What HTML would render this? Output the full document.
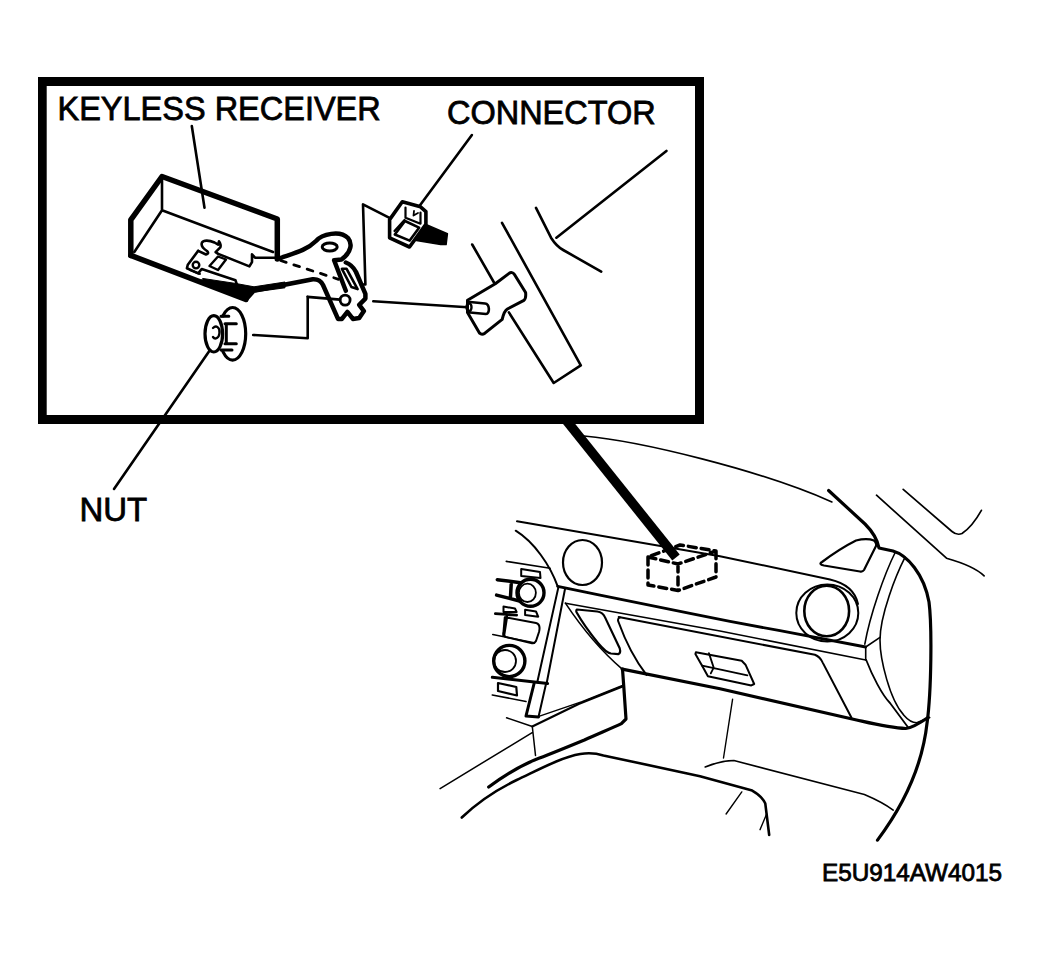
<!DOCTYPE html>
<html><head><meta charset="utf-8">
<style>
html,body{margin:0;padding:0;background:#fff;}
svg{display:block;}
text{font-family:"Liberation Sans",sans-serif;fill:#000;}
</style></head>
<body>
<svg width="1038" height="958" viewBox="0 0 1038 958">
<!-- frame -->
<path d="M38 77 H704 V424 H38 Z M46.7 86 V415 H695 V86 Z" fill="#000" fill-rule="evenodd"/>
<g fill="none" stroke="#000" stroke-linecap="round" stroke-linejoin="round">
<!-- pointer -->
<path d="M566 420 L676 557.5" stroke-width="9.5" stroke-linecap="butt"/>

<!-- ===== INSET ===== -->
<!-- receiver leader -->
<path d="M191.8 126 L204.5 207.7" stroke-width="2.6"/>
<!-- receiver box -->
<path d="M130.8 255.4 V219.8 L162 176.5 L277.3 219 V259" stroke-width="5.5"/>
<path d="M130.8 255.4 L245.9 299.4" stroke-width="5.5"/>
<path d="M162 176.5 V210.3 L273 252 M162 210.3 L134.3 252" stroke-width="2.6"/>
<!-- clip under box -->
<path d="M198.2 250.8 L187.8 264.7 L186.9 268.2 L198.2 273.4 L201.7 269 L235.5 280.3 L237.2 285.5" stroke-width="2.6"/>
<path d="M198.2 250.8 L206 254.5 C208 254 209 253 207 251 C203 248.5 200.5 246 202 242.5 C203.5 240 209 240 214.5 242.5 L218.2 244.7 L219 241.3 C220.5 243 221 246 220.3 247.3 L215.6 252.1 L218.2 253.9 L249.4 266.4 L252 262.1 L252 254.3 L255 257.7 L281 257.8" stroke-width="2.6"/>
<path d="M209.5 266 L218 256.5 L226 259.5 L218 270 Z" stroke-width="2.4"/>
<circle cx="196" cy="265.1" r="3.3" stroke-width="2.4"/>
<path d="M190 270 L200 274" stroke-width="2"/>
<!-- bracket -->
<path d="M203 278.5 L236 283.5 L254 286.8 L285 282 L285 287.8 L254 292 L246 300.5 L200 283 Z" fill="#000" stroke-width="1"/>
<path d="M245.9 299.4 L253.7 290.7 L312.8 279.3 C318 279 321 281 323 285 L338 318.9 L341.9 318.9 L347.4 311.9 L352.9 318.9 L359.2 318.1 L363.9 311.1 L359.2 304.8 L365.4 298.6 V293.9 L356 272 C354 268 350 264 345.8 262.5" stroke-width="4.5"/>
<path d="M281 257.8 C295 253 307 250 316 241 C322 234 340 230 348 238 C353 244 350 252 345 256.5 L341.5 259.5 L334.1 260.2 L345.8 290.7" stroke-width="4.5"/>
<ellipse cx="329.7" cy="247" rx="7.5" ry="4" stroke-width="3"/>
<path d="M280.5 260.5 L338.5 279.3" stroke-width="2.8" stroke-dasharray="6 8"/>
<path d="M341.9 268.8 L346.6 268.8 L357.6 289.1 L351.4 287 Z" stroke-width="2.6"/>
<circle cx="345.1" cy="300.1" r="5" stroke-width="2.8"/>
<path d="M307.4 296.9 L340 299.6 M307.7 296.9 V338.2 L253.2 335" stroke-width="2.6"/>
<!-- nut -->
<ellipse cx="232.6" cy="333.8" rx="13.1" ry="26.3" stroke-width="3.2"/>
<path d="M214 317.5 L224 317.5 L226.5 322 V345.5 L224 349 L214 349 Z" fill="#fff" stroke="none"/>
<path d="M221 316.3 L228.8 316.3 M225 323.8 L236.3 323.8 M225 343.8 L236.3 343.8 M221 350 L232 350 M226.3 323.8 V343.8" stroke-width="3"/>
<ellipse cx="213.8" cy="333.8" rx="8.8" ry="18.2" stroke-width="3.2" fill="#fff"/>
<path d="M213 328 C216 325 220 327 219.5 333 C219 338 215 340 213 337" stroke-width="2.4"/>
<path d="M210 350 L114 489" stroke-width="2.6"/>
<!-- connector -->
<path d="M471.9 135 L419.1 206.5" stroke-width="2.6"/>
<path d="M390 218.2 L363 204.4 L365.4 284.5 L360.7 284.5" stroke-width="2.6"/>
<path d="M425.9 224.4 L447.4 233.8 L446.1 244.6 L440.7 244.6 L416.4 240.6 Z" fill="#000" stroke-width="1.5"/>
<path d="M402.3 201.7 L420.5 206.8 L425.9 211.6 V224.4 L409.5 247 L389.6 237.8 V219.6 Z" stroke-width="3.6" fill="#fff"/>
<path d="M405.5 207.5 V217.8 L420.5 223.7 V212.5 M404.5 220 L394.5 231" stroke-width="2.2"/>
<path d="M414 211 L413.5 215.5 L418 213" stroke-width="1.8"/>
<path d="M394.8 234.5 L405 221 L419.1 227.7 L409.7 240.6 Z" stroke-width="2.6"/>
<!-- line to socket -->
<path d="M373.3 301.3 L467.5 307.2" stroke-width="2.6"/>
<!-- panel -->
<path d="M472.2 244.5 L494 282.5 M508.9 312.4 L553.7 383 L580.8 365.4 L502 222.8" stroke-width="2.6"/>
<path d="M536 207.9 L551 237.7 C555 244 558 247 563.2 250 L601.2 271.7 M556.4 237.7 L666.4 150.9" stroke-width="2.6"/>
<!-- socket -->
<path d="M467.5 300.3 L495.3 283.8 L509.1 273.4 C511 272 513 272.5 514.3 274.3 L525.6 292.5 C526 296 525.5 299 523.9 300.3 L507.4 309 C504 311 503 316 502.2 319.4 L484.9 333.2 C483 334.5 481 334.5 479.6 333.2 L467.5 312.4 Z" stroke-width="3" fill="#fff"/>
<path d="M470 302 L485 303.5 C490 304 490 314 486 314 L470 312.5" stroke-width="2.6"/>
<ellipse cx="469" cy="307.2" rx="2.5" ry="4" stroke-width="2.4"/>

<!-- ===== DASHBOARD ===== -->
<path d="M584 436 C640 441 760 470 831.9 501.9" stroke-width="1.6"/>
<path d="M828.6 490.5 L865 524 C872 531 877 538 879 548 L893 551 C907 555 924 574 929 602 C932 625 931.5 690 927.1 722.7 C922 770 900 810 877.5 840.1" stroke-width="3.2"/>
<path d="M822 562 C830 556 845 546 856 540.5 C862 539 870 539 874 540.5 C876 542 876.5 545 876 546 L864 570 C863 571.5 862 572 860 571.5 L824 565.5 C820 564.5 819.5 563.5 822 562 Z" stroke-width="2.2"/>
<path d="M876.5 495.2 L946.5 558.2 C960 562 975 567 984.1 575.8" stroke-width="1.7"/>
<path d="M903.2 489.4 L952 531.5 C955 534 958.5 535 962 533.5 C970 528 976 520 981.4 510.3" stroke-width="1.7"/>
<!-- dash top edge -->
<path d="M517 521.3 L720 556.2 L830 579.5 C843 582.5 855 590 858 604" stroke-width="2"/>
<path d="M515.7 530.7 C534 542 550 565 557.7 586.4" stroke-width="2"/>
<path d="M506.3 561.4 L550.1 568.3" stroke-width="1.6"/>
<ellipse cx="582.5" cy="562.5" rx="19.5" ry="22.5" stroke-width="2.2"/>
<!-- lower dash edge -->
<path d="M557.7 586.4 L600 595.2 L690 613.4 L730 621.4 L780 630.7 L865.7 647" stroke-width="2.8"/>
<path d="M565.5 603.2 L720 631 L865.7 660" stroke-width="1.6"/>
<path d="M865.7 647 V660 M865.7 647 L880 637.4" stroke-width="1.6"/>
<!-- right vent -->
<ellipse cx="827.3" cy="613" rx="31" ry="28.5" stroke-width="2"/>
<ellipse cx="826.7" cy="611" rx="22.4" ry="25.3" stroke-width="2.6"/>
<!-- pillar inner curves -->
<path d="M895.4 552 C884 575 870 615 864.8 644.2" stroke-width="1.6"/>
<path d="M905.1 557.2 C896 575 880 615 880 640 C880 660 890 700 903.6 714.9 C908 720 912 722.7 916.7 722.7 L929.7 717.5" stroke-width="1.6"/>
<path d="M866.2 660 C872 675 882 695 890 703 L907.8 727" stroke-width="1.8"/>
<!-- glovebox -->
<path d="M618.7 617 L814.9 654.8 C818 656 821 659 822.7 662.6 L851.4 717.5" stroke-width="2"/>
<path d="M620 617.5 C618 618 617.5 620 618.5 622 C625 640 635 660 646.5 674.9" stroke-width="2"/>
<path d="M622.2 669.1 L720 688.7 L856.6 720 C870 723 890 728 905.8 728.5 C912 728 920 723 928 717.5" stroke-width="3.2"/>
<path d="M695.9 652.2 L741.7 660.8 L745.5 664.7 L754.2 684 L751.3 685.4 L707.9 676.2 L703.1 667.6 L695.4 654.1 Z" stroke-width="2"/>
<path d="M702.2 665.6 L747.4 675.3 M708.9 653.1 L713.7 667.6 L710.8 673.4" stroke-width="1.8"/>
<path d="M577 609.5 L597.3 611.5 C601 612 603.5 614 604.8 616.9 L619.7 648.2 C620.5 651 620 653.5 618.2 654.2 L611 653.5 C607 653 603 649 598 643 C590 633 582 622 577 613 C576 611.5 576 610 577 609.5 Z" stroke-width="2.2"/>
<path d="M565.4 603.1 C580 625 600 650 622.2 669.1" stroke-width="1.6"/>
<!-- console -->
<path d="M622.5 669.2 L623.7 685.4 L626 719 L621.4 723.6 C612 728 600 733 584.4 740 C565 748 548 755 535.2 759.7 C520 766 505 775 488.7 787" stroke-width="3.2"/>
<path d="M538.1 716.6 L582 701.6 L622.5 685.4" stroke-width="1.5"/>
<path d="M532.3 726.5 L578.6 703.9 L622.5 686.6" stroke-width="2.2"/>
<path d="M440.1 788.6 L532.6 732.3 M506.6 717.8 L532.3 726.5 L535.5 755.4" stroke-width="1.5"/>
<path d="M461.8 817.5 C478 802 498 789 516.7 780 C540 769 562 757 580.3 754 C590 752.5 597 753.5 603.4 755.4 L700 776.2 L752.2 790.6 C758 794 763 798 765.3 803.6 L769.2 835" stroke-width="2.6"/>
<path d="M705.2 767 C715 763 725 760.5 733.9 760.5 L864.4 794.5 C875 799 885 804 893.2 810.1" stroke-width="1.6"/>
<path d="M732.6 699.2 L723.5 758" stroke-width="1.4"/>
<path d="M741.8 791.9 L726.1 814 M766.6 814 L760 829.7" stroke-width="1.4"/>
<!-- center stack -->
<path d="M558.2 588.1 L537.2 682.5 M565 589 L546.6 683.5" stroke-width="2"/>
<path d="M492.3 677.3 L547.6 683.5" stroke-width="3"/>
<path d="M534.1 683.5 L526 716 L538.5 717" stroke-width="3"/>
<path d="M546.1 683.5 L538.5 717" stroke-width="2"/>
<path d="M492.3 695 L526 701.5" stroke-width="1.6"/>
<path d="M498 683 L516.3 687 L517 695.5 L498 691 Z" stroke-width="2.2"/>
<circle cx="509.3" cy="661" r="15.6" stroke-width="3.4"/>
<circle cx="505" cy="661" r="11" stroke-width="1.8"/>
<path d="M504.8 617.2 L536 623 C540 624 540 628 539 632 L536 641 C535 643 533 643.5 531 643 L506 637 C503 636 503 634 503.5 632 Z" stroke-width="2"/>
<path d="M492.8 634.5 L534.1 642.8" stroke-width="1.6"/>
<path d="M495.4 613.6 L516.6 615.1 M506.9 615.7 L503.8 635.5" stroke-width="2.8"/>
<path d="M503.5 606.6 L515 608.5 L516.6 612 L503.5 612 Z M525.1 609.7 L536 611.5 L538.2 616.7 L525.1 615 Z" stroke-width="2"/>
<circle cx="530.5" cy="592.8" r="13.5" stroke-width="3.4"/>
<ellipse cx="527.4" cy="592.8" rx="8.5" ry="9.2" stroke-width="1.8"/>
<path d="M521.2 569 L540 572 L540.5 578.1 L521.2 576 Z" stroke-width="2"/>
<path d="M497.3 579.7 L520.5 582.7 M511.2 584.3 L510.4 598.2 M496.6 595.1 L520.5 601.2" stroke-width="3.5"/>
<!-- dashed connector box -->
<path d="M648 557 L678 564 L716 551 L680 545 Z M648 557 V585 L678 590.5 L716 577 V551 M678 564 V590.5" stroke-width="3.5" stroke-dasharray="8 5"/>
</g>
<g stroke="#000" stroke-width="0.8">
<text transform="translate(57.5 120.1) scale(0.97 1)" font-size="33.5">KEYLESS RECEIVER</text>
<text transform="translate(447 124.3) scale(0.955 1)" font-size="34">CONNECTOR</text>
<text transform="translate(79.5 521) scale(0.97 1)" font-size="34">NUT</text>
</g>
<text x="822" y="881" font-size="24.3" stroke="#000" stroke-width="0.8">E5U914AW4015</text>
</svg>
</body></html>
